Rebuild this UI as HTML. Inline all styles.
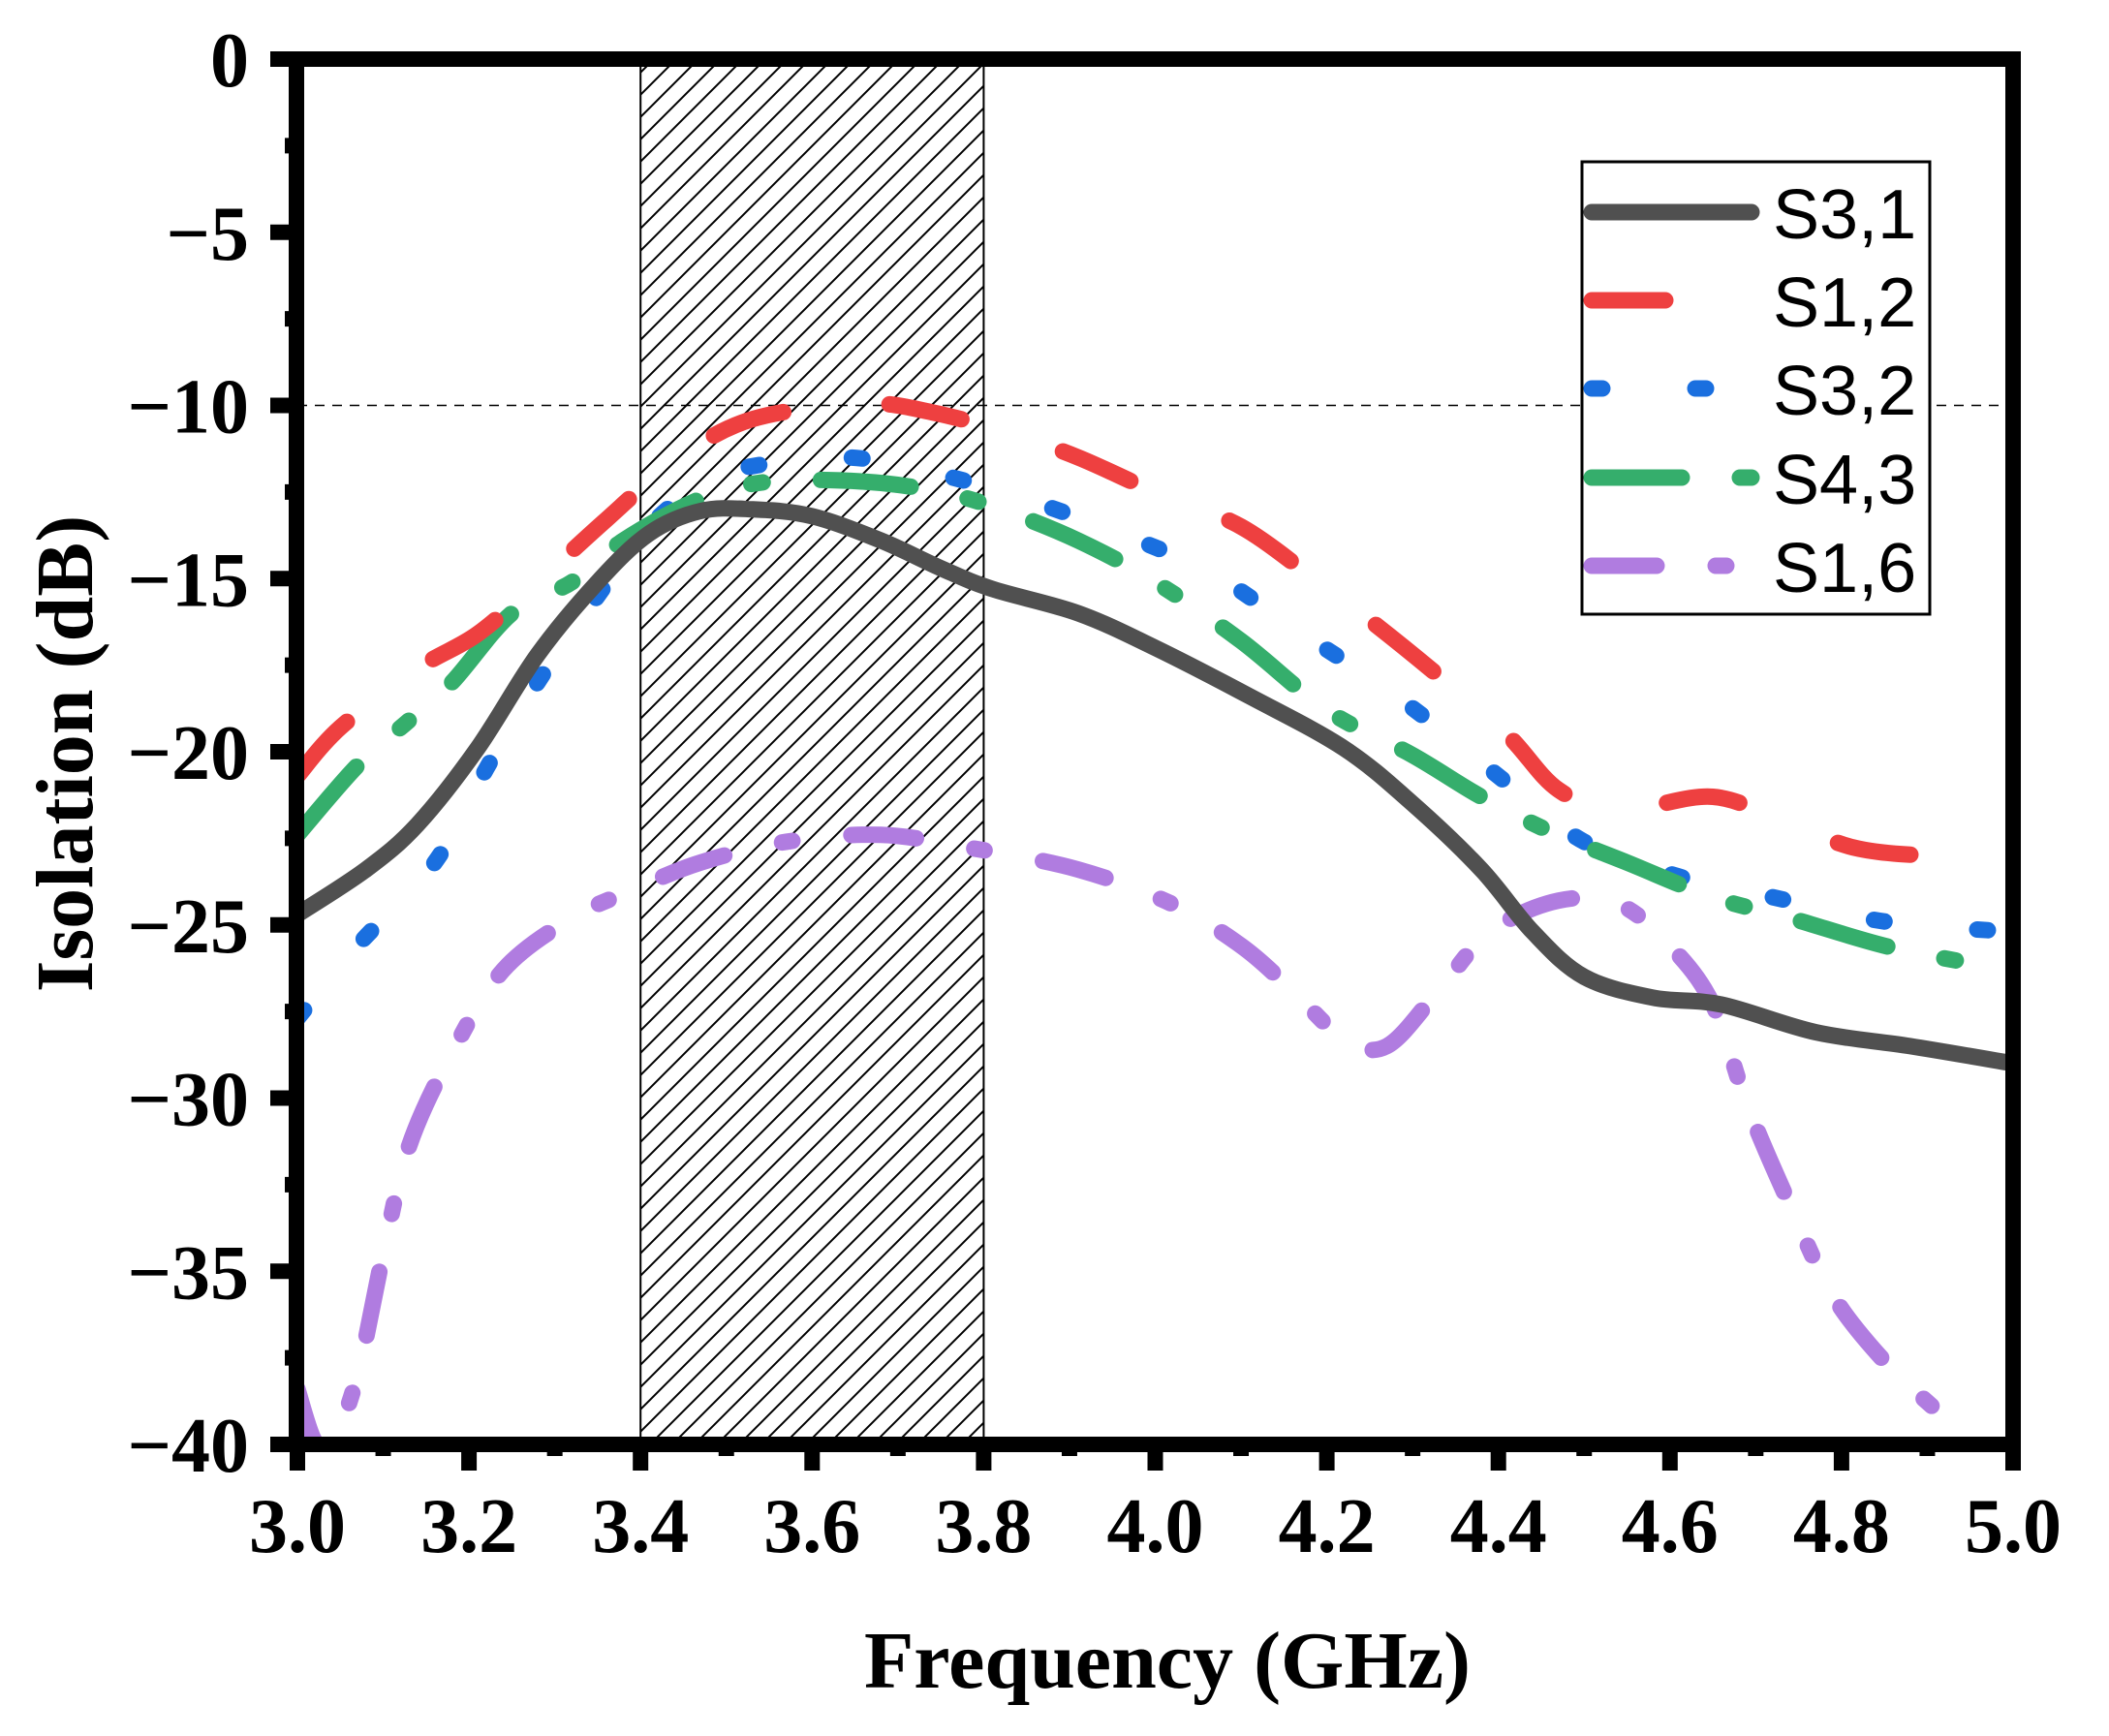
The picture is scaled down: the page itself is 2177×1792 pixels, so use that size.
<!DOCTYPE html>
<html><head><meta charset="utf-8"><style>body{margin:0;background:#fff}svg{display:block}</style></head>
<body>
<svg id="chart" width="2177" height="1792" viewBox="0 0 2177 1792" xmlns="http://www.w3.org/2000/svg">
<defs>
<pattern id="hatch" patternUnits="userSpaceOnUse" width="23" height="23">
<path d="M-2,25 L25,-2 M-2,2 L2,-2 M21,25 L25,21" stroke="#000" stroke-width="2"/>
</pattern>
<clipPath id="clip"><rect x="314" y="69" width="1757" height="1414"/></clipPath>
</defs>
<g id="plot"></g>
<text x="1205" y="1742" text-anchor="middle" font-family="Liberation Serif, serif" font-weight="bold" font-size="84">Frequency (GHz)</text>
<text transform="translate(95,778) rotate(-90)" text-anchor="middle" font-family="Liberation Serif, serif" font-weight="bold" font-size="84">Isolation (dB)</text>
</svg>
<script>
const xTicks=[3.0,3.2,3.4,3.6,3.8,4.0,4.2,4.4,4.6,4.8,5.0];
const xTickLabels=["3.0","3.2","3.4","3.6","3.8","4.0","4.2","4.4","4.6","4.8","5.0"];
const yTicks=[0,-5,-10,-15,-20,-25,-30,-35,-40];
const yTickLabels=["0","\u22125","\u221210","\u221215","\u221220","\u221225","\u221230","\u221235","\u221240"];
const band=[3.4,3.8];
const refLevel=-10;
const seriesNames=["S3,1","S1,2","S3,2","S4,3","S1,6"];
const s31F=[3.0,3.08,3.14,3.21,3.28,3.35,3.41,3.47,3.53,3.6,3.68,3.75,3.81,3.91,4.0,4.11,4.22,4.3,4.38,4.44,4.5,4.58,4.66,4.77,4.88,5.0];
const s31V=[-24.7,-23.4,-22.1,-19.9,-17.2,-15.1,-13.7,-13.05,-13.0,-13.2,-13.9,-14.7,-15.3,-16.0,-17.0,-18.4,-19.9,-21.5,-23.4,-25.2,-26.5,-27.1,-27.3,-28.1,-28.5,-29.0];
const s12F=[3.0,3.05,3.14,3.21,3.28,3.36,3.44,3.53,3.66,3.74,3.83,3.91,4.0,4.1,4.19,4.25,4.33,4.41,4.47,4.54,4.65,4.74,4.82,4.91,5.0];
const s12V=[-20.7,-19.3,-17.6,-16.6,-15.1,-13.3,-11.6,-10.4,-9.95,-10.2,-10.8,-11.5,-12.5,-13.5,-15.1,-16.2,-17.8,-19.5,-21.1,-21.7,-21.3,-22.1,-22.8,-23.0,-22.95];
const s32F=[3.0,3.07,3.16,3.22,3.28,3.35,3.41,3.47,3.52,3.64,3.75,3.86,3.98,4.07,4.16,4.27,4.35,4.41,4.5,4.61,4.72,4.85,5.0];
const s32V=[-27.7,-25.6,-23.2,-20.5,-18.0,-15.5,-13.5,-12.3,-11.8,-11.5,-12.0,-12.8,-13.9,-14.9,-16.4,-18.2,-19.7,-20.9,-22.6,-23.6,-24.2,-24.9,-25.2];
const s43F=[3.0,3.07,3.13,3.18,3.25,3.32,3.38,3.47,3.55,3.66,3.75,3.82,3.91,4.0,4.1,4.2,4.3,4.38,4.46,4.55,4.65,4.74,4.85,4.95,5.0];
const s43V=[-22.4,-20.4,-19.1,-18.0,-16.0,-15.1,-13.9,-12.7,-12.2,-12.2,-12.5,-13.0,-13.9,-15.1,-16.8,-18.8,-20.1,-21.3,-22.3,-23.2,-24.2,-24.8,-25.6,-26.1,-26.25];
const s16F=[3.0,3.02,3.04,3.07,3.1,3.13,3.18,3.24,3.32,3.39,3.47,3.57,3.68,3.79,3.91,4.02,4.1,4.16,4.22,4.27,4.33,4.39,4.47,4.54,4.6,4.65,4.69,4.74,4.79,4.85,4.91];
const s16V=[-38.4,-39.9,-40,-38.0,-34.5,-31.4,-28.7,-26.3,-24.8,-24.0,-23.2,-22.6,-22.4,-22.8,-23.4,-24.4,-25.6,-26.9,-28.3,-28.5,-26.9,-25.2,-24.3,-24.4,-25.6,-27.3,-30.2,-33.1,-35.7,-37.6,-39.0];

const X0=307,X1=2078,Y0=61,Y1=1491;
function xs(f){return X0+(f-3)/2*(X1-X0);}
function ys(v){return Y0+(0-v)/40*(Y1-Y0);}
const NS="http://www.w3.org/2000/svg";
const plot=document.getElementById('plot');
function mk(tag,attrs,parent){const e=document.createElementNS(NS,tag);for(const k in attrs)e.setAttribute(k,attrs[k]);(parent||plot).appendChild(e);return e;}

let hb=mk('rect',{x:xs(band[0]),y:Y0,width:xs(band[1])-xs(band[0]),height:Y1-Y0,fill:'url(#hatch)',stroke:'#000','stroke-width':2});


let rl=mk('line',{x1:X0,x2:X1,y1:ys(refLevel),y2:ys(refLevel),stroke:'#000','stroke-width':1.5,'stroke-dasharray':'10 8'});



const styles=[
 {F:s31F,V:s31V,c:'#505050',d:'none'},
 {F:s12F,V:s12V,c:'#ee4040',d:'76 110'},
 {F:s32F,V:s32V,c:'#1a6fdf',d:'11 96'},
 {F:s43F,V:s43V,c:'#35ae6c',d:'93 60 12 60'},
 {F:s16F,V:s16V,c:'#b07ce0',d:'67 61 11 61'}
];
const g=mk('g',{'clip-path':'url(#clip)'});
function smoothPath(F,V){
 const p=F.map((f,i)=>[xs(f),ys(V[i])]);
 let d='M'+p[0][0]+','+p[0][1];
 for(let i=0;i<p.length-1;i++){
  const p0=p[Math.max(i-1,0)],p1=p[i],p2=p[i+1],p3=p[Math.min(i+2,p.length-1)];
  const c1=[p1[0]+(p2[0]-p0[0])/6,p1[1]+(p2[1]-p0[1])/6];
  const c2=[p2[0]-(p3[0]-p1[0])/6,p2[1]-(p3[1]-p1[1])/6];
  d+=' C'+c1[0]+','+c1[1]+' '+c2[0]+','+c2[1]+' '+p2[0]+','+p2[1];
 }
 return d;
}
const order=[4,2,3,1,0];
order.forEach(i=>{
 const s=styles[i];
 const path=mk('path',{d:smoothPath(s.F,s.V),fill:'none',stroke:s.c,'stroke-width':17,'stroke-linecap':'round','stroke-linejoin':'round','stroke-dasharray':s.d},g);
 
 
});

let fr=mk('rect',{x:306,y:61,width:1772,height:1430,fill:'none',stroke:'#000','stroke-width':16});



xTicks.forEach((t,i)=>{
 const x=xs(t);
 let tk=mk('line',{x1:x,x2:x,y1:Y1,y2:Y1+27,stroke:'#000','stroke-width':16});
 
 
 if(i<xTicks.length-1){
  const xm=xs(t+0.1);
  let mt=mk('line',{x1:xm,x2:xm,y1:Y1,y2:Y1+12,stroke:'#000','stroke-width':16});
  
  
 }
 let lb=mk('text',{x:x,y:1602,'text-anchor':'middle','font-family':'Liberation Serif, serif','font-weight':'bold','font-size':80});
 lb.textContent=xTickLabels[i];
 
 
});
yTicks.forEach((t,i)=>{
 const y=ys(t);
 let tk=mk('line',{x1:X0-28,x2:X0,y1:y,y2:y,stroke:'#000','stroke-width':16});
 
 
 if(i<yTicks.length-1){
  const ym=ys(t-2.5);
  let mt=mk('line',{x1:X0-13,x2:X0,y1:ym,y2:ym,stroke:'#000','stroke-width':16});
  
  
 }
 let lb=mk('text',{x:257,y:y+28,'text-anchor':'end','font-family':'Liberation Serif, serif','font-weight':'bold','font-size':80});
 lb.textContent=yTickLabels[i];
 
 
});

const lg=mk('g',{});


let lbx=mk('rect',{x:1633,y:167,width:359,height:467,fill:'#fff',stroke:'#000','stroke-width':3},lg);


const rowY=[219,310,401,493,584];
styles.forEach((s,i)=>{
 let ln=mk('line',{x1:1643,x2:1808,y1:rowY[i],y2:rowY[i],stroke:s.c,'stroke-width':17,'stroke-linecap':'round','stroke-dasharray':s.d},lg);
 
 
 let tx=mk('text',{x:1830,y:rowY[i]+27,'font-family':'Liberation Sans, sans-serif','font-size':72},lg);
 tx.textContent=seriesNames[i];
 
 
});
</script>
</body></html>
